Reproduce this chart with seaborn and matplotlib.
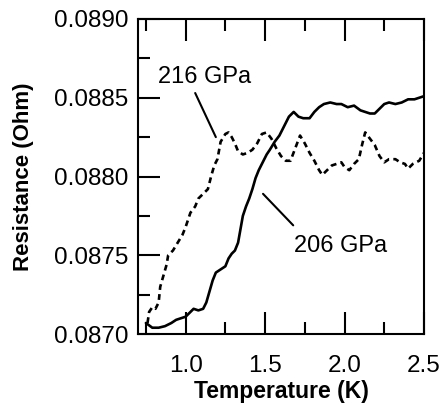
import numpy as np
import pandas as pd
import matplotlib

matplotlib.use('Agg')
import matplotlib.pyplot as plt
import seaborn as sns
from matplotlib.ticker import MultipleLocator, FormatStrFormatter

# 206 GPa trace (solid)
temp_206 = [0.75, 0.79, 0.83, 0.87, 0.91, 0.94, 0.97, 1.00, 1.03, 1.05, 1.08, 1.11,
            1.13, 1.15, 1.17, 1.19, 1.22, 1.25, 1.27, 1.29, 1.31, 1.33, 1.36, 1.38,
            1.40, 1.42, 1.44, 1.46, 1.49, 1.51, 1.53, 1.56, 1.59, 1.62, 1.65, 1.68,
            1.71, 1.74, 1.78, 1.81, 1.84, 1.87, 1.91, 1.95, 1.98, 2.02, 2.06, 2.10,
            2.13, 2.16, 2.19, 2.22, 2.25, 2.28, 2.32, 2.36, 2.40, 2.44, 2.47, 2.50]
res_206 = [0.08707, 0.08704, 0.08704, 0.08705, 0.08707, 0.08709, 0.08710, 0.08711,
           0.08714, 0.08716, 0.08715, 0.08716, 0.08720, 0.08727, 0.08734, 0.08739,
           0.08741, 0.08743, 0.08748, 0.08751, 0.08753, 0.08758, 0.08775, 0.08781,
           0.08786, 0.08792, 0.08799, 0.08804, 0.08810, 0.08814, 0.08817, 0.08822,
           0.08826, 0.08832, 0.08838, 0.08841, 0.08838, 0.08837, 0.08837, 0.08841,
           0.08844, 0.08846, 0.08847, 0.08846, 0.08846, 0.08844, 0.08845, 0.08842,
           0.08841, 0.08840, 0.08840, 0.08843, 0.08846, 0.08847, 0.08846, 0.08847,
           0.08849, 0.08849, 0.08850, 0.08851]

# 216 GPa trace (dashed)
temp_216 = [0.76, 0.77, 0.79, 0.81, 0.83, 0.84, 0.86, 0.88, 0.89, 0.92, 0.95, 0.98,
            1.00, 1.03, 1.06, 1.08, 1.11, 1.14, 1.16, 1.18, 1.20, 1.22, 1.25, 1.27,
            1.29, 1.31, 1.33, 1.36, 1.39, 1.42, 1.45, 1.48, 1.51, 1.54, 1.57, 1.60,
            1.63, 1.66, 1.69, 1.72, 1.75, 1.78, 1.81, 1.84, 1.86, 1.89, 1.92, 1.95,
            1.98, 2.00, 2.03, 2.06, 2.09, 2.11, 2.13, 2.16, 2.19, 2.22, 2.25, 2.28,
            2.32, 2.35, 2.38, 2.40, 2.43, 2.47, 2.50]
res_216 = [0.08707, 0.08714, 0.08717, 0.08716, 0.08720, 0.08730, 0.08737, 0.08744,
           0.08750, 0.08753, 0.08758, 0.08763, 0.08768, 0.08777, 0.08781, 0.08786,
           0.08789, 0.08792, 0.08800, 0.08807, 0.08811, 0.08822, 0.08827, 0.08828,
           0.08825, 0.08821, 0.08816, 0.08814, 0.08815, 0.08817, 0.08821, 0.08827,
           0.08828, 0.08824, 0.08818, 0.08813, 0.08810, 0.08810, 0.08818, 0.08826,
           0.08821, 0.08815, 0.08810, 0.08804, 0.08801, 0.08804, 0.08807, 0.08808,
           0.08809, 0.08806, 0.08804, 0.08808, 0.08811, 0.08820, 0.08828, 0.08824,
           0.08820, 0.08813, 0.08809, 0.08811, 0.08811, 0.08809, 0.08808, 0.08805,
           0.08808, 0.08810, 0.08815]

labels = ['206 GPa', '216 GPa']

sns.set_style('ticks')
plt.rcParams['font.family'] = ['Liberation Sans', 'DejaVu Sans']
plt.rcParams['text.color'] = 'black'
plt.rcParams['axes.labelcolor'] = 'black'

fig = plt.figure(figsize=(4.4, 4.11), dpi=100)
ax = fig.add_axes([0.3136, 0.1873, 0.65, 0.7665])

df206 = pd.DataFrame({'T': temp_206, 'R': res_206})
df216 = pd.DataFrame({'T': temp_216, 'R': res_216})
sns.lineplot(data=df206, x='T', y='R', ax=ax, color='black', linewidth=1.9,
             sort=False, estimator=None)
sns.lineplot(data=df216, x='T', y='R', ax=ax, color='black', linewidth=1.9,
             linestyle=(0, (2.2, 1.6)), sort=False, estimator=None)

ax.set_xlim(0.70, 2.50)
ax.set_ylim(0.0870, 0.0890)
ax.xaxis.set_major_locator(MultipleLocator(0.5))
ax.xaxis.set_minor_locator(MultipleLocator(0.25))
ax.yaxis.set_major_locator(MultipleLocator(0.0005))
ax.yaxis.set_minor_locator(MultipleLocator(0.00025))
ax.xaxis.set_major_formatter(FormatStrFormatter('%.1f'))
ax.yaxis.set_major_formatter(FormatStrFormatter('%.4f'))

ax.tick_params(which='both', direction='in', top=True, right=False, width=1.5,
               colors='black', labelsize=17.5)
ax.tick_params(which='major', length=15.5)
ax.tick_params(which='minor', length=8.5)
ax.tick_params(axis='y', which='major', pad=7)
ax.tick_params(axis='x', which='major', pad=15)
for sp in ax.spines.values():
    sp.set_linewidth(1.5)
    sp.set_color('black')

ax.set_xlabel('Temperature (K)', fontsize=16.5, fontweight='bold', labelpad=2)
ax.set_ylabel('Resistance (Ohm)', fontsize=16, fontweight='bold', labelpad=14)

# leader lines and labels
ax.annotate('', xy=(1.19, 0.08825), xytext=(1.06, 0.08853),
            arrowprops=dict(arrowstyle='-', color='black', lw=1.5,
                            shrinkA=0, shrinkB=0))
ax.text(1.12, 0.08863, labels[1], ha='center', va='center', fontsize=17,
        color='black')
ax.annotate('', xy=(1.487, 0.08789), xytext=(1.677, 0.08769),
            arrowprops=dict(arrowstyle='-', color='black', lw=1.5,
                            shrinkA=0, shrinkB=0))
ax.text(1.975, 0.08756, labels[0], ha='center', va='center', fontsize=17,
        color='black')

fig.savefig('out.png', dpi=100)
plt.close(fig)
